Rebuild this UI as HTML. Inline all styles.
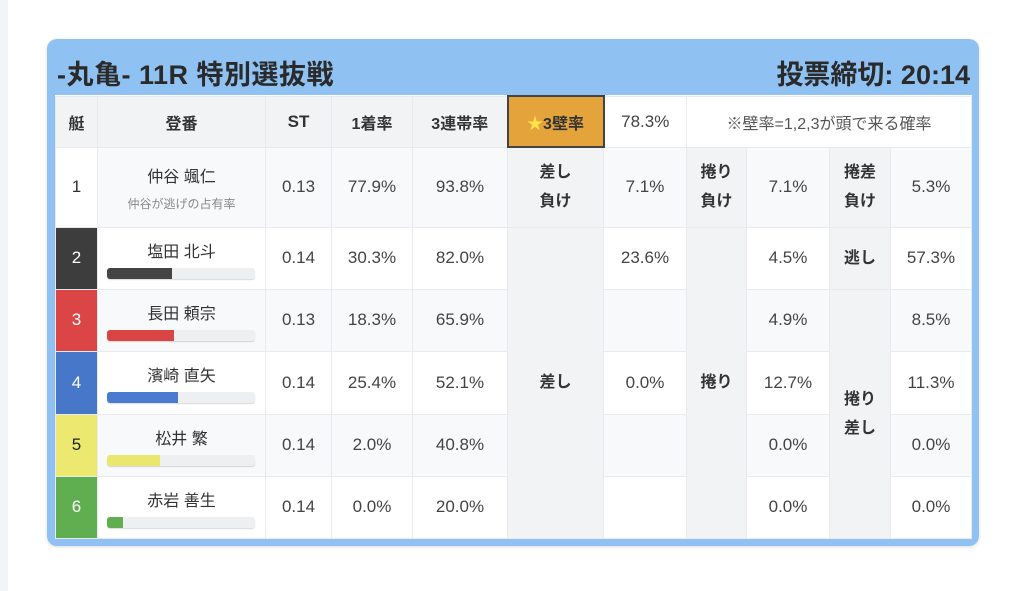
<!DOCTYPE html>
<html><head><meta charset="utf-8">
<style>
html,body{margin:0;padding:0;background:#fff;width:1024px;height:591px;overflow:hidden;font-family:"Liberation Sans","Noto Sans CJK JP",sans-serif;color:#333}
.lstrip{position:absolute;left:0;top:0;width:8px;height:591px;background:#f3f4f6}
.box{position:absolute;left:47px;top:39px;width:932px;height:507px;background:#8fc1f3;border-radius:10px;box-shadow:0 1px 3px rgba(0,0,0,.15)}
.t1{position:absolute;left:10px;top:14px;font-size:27px;font-weight:bold;color:#2a2a2a;letter-spacing:.5px}
.t2{position:absolute;right:9px;top:14px;font-size:27px;font-weight:bold;color:#2a2a2a}
table{position:absolute;left:8px;top:56px;border-collapse:collapse;table-layout:fixed;background:#fff}
td{border:1px solid #e8eaee;text-align:center;vertical-align:middle;padding:0;font-size:17px;color:#444}
tr.h td{background:#f2f3f5;font-size:16px;font-weight:bold;color:#333;height:49px}
tr.o td{background:#f8f9fb}
tr.e td{background:#fff}
td.lab{background:#f2f3f5 !important;font-weight:bold;font-size:16px;line-height:29px;color:#333}
td.n{font-size:16px;color:#333}
.sub{font-size:12px;color:#888;margin-top:8px}
.bar{width:148px;height:11px;margin:6px auto 0;background:#eeeff1;border-radius:3px;box-shadow:0 1px 1px rgba(0,0,0,.15);overflow:hidden;position:relative;left:-1px}
.bar i{display:block;height:100%}
td.b{color:#fff;font-size:17px}
td.star{background:#e5a33b !important;border:2px solid #444;color:#222}
</style></head><body>
<div class="lstrip"></div>
<div class="box">
<div class="t1">-丸亀- 11R 特別選抜戦</div>
<div class="t2">投票締切: 20:14</div>
<table>
<colgroup><col style="width:42px"><col style="width:168px"><col style="width:66px"><col style="width:81px"><col style="width:95px"><col style="width:96px"><col style="width:83px"><col style="width:60px"><col style="width:83px"><col style="width:61px"><col style="width:81px"></colgroup>
<tr class="h"><td>艇</td><td>登番</td><td style="font-size:17px">ST</td><td>1着率</td><td>3連帯率</td><td class="star"><span style="color:#ffe14a">★</span>3壁率</td><td style="background:#fff;font-weight:normal;font-size:17px;color:#444">78.3%</td><td colspan="4" style="background:#fff;font-weight:normal;color:#555;font-size:16px">※壁率=1,2,3が頭で来る確率</td></tr>
<tr class="o" style="height:80px"><td style="background:#fff;color:#333">1</td><td class="n">仲谷 颯仁<div class="sub">仲谷が逃げの占有率</div></td><td>0.13</td><td>77.9%</td><td>93.8%</td><td class="lab">差し<br>負け</td><td>7.1%</td><td class="lab">捲り<br>負け</td><td>7.1%</td><td class="lab">捲差<br>負け</td><td>5.3%</td></tr>
<tr class="e" style="height:62px"><td class="b" style="background:#3d3d3d">2</td><td class="n">塩田 北斗<div class="bar"><i style="width:65px;background:#444"></i></div></td><td>0.14</td><td>30.3%</td><td>82.0%</td><td class="lab" rowspan="5">差し</td><td>23.6%</td><td class="lab" rowspan="5">捲り</td><td>4.5%</td><td class="lab">逃し</td><td>57.3%</td></tr>
<tr class="o" style="height:62px"><td class="b" style="background:#dc4545">3</td><td class="n">長田 頼宗<div class="bar"><i style="width:67px;background:#d94444"></i></div></td><td>0.13</td><td>18.3%</td><td>65.9%</td><td></td><td>4.9%</td><td class="lab" rowspan="4">捲り<br>差し</td><td>8.5%</td></tr>
<tr class="e" style="height:63px"><td class="b" style="background:#4677c9">4</td><td class="n">濱崎 直矢<div class="bar"><i style="width:71px;background:#4a7bd0"></i></div></td><td>0.14</td><td>25.4%</td><td>52.1%</td><td>0.0%</td><td>12.7%</td><td>11.3%</td></tr>
<tr class="o" style="height:62px"><td style="background:#ede86f;color:#222">5</td><td class="n">松井 繁<div class="bar"><i style="width:53px;background:#ebe66e"></i></div></td><td>0.14</td><td>2.0%</td><td>40.8%</td><td></td><td>0.0%</td><td>0.0%</td></tr>
<tr class="e" style="height:62px"><td class="b" style="background:#5fae50">6</td><td class="n">赤岩 善生<div class="bar"><i style="width:16px;background:#5fae50"></i></div></td><td>0.14</td><td>0.0%</td><td>20.0%</td><td></td><td>0.0%</td><td>0.0%</td></tr>
</table>
</div>
</body></html>
